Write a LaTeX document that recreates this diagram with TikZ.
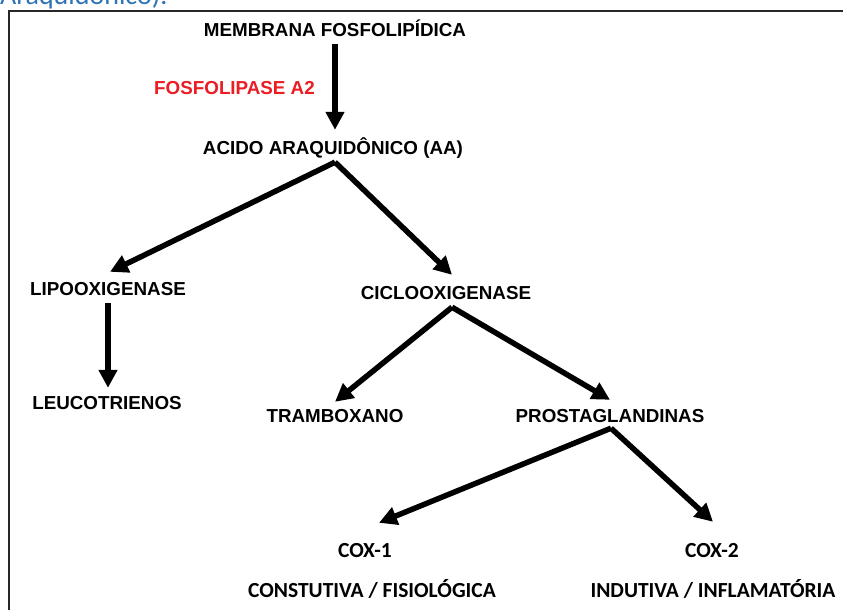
\documentclass[tikz,border=0pt]{standalone}
\usepackage{fontspec}
\setmainfont{Liberation Sans}
\newfontfamily\calfont{Carlito}
\usetikzlibrary{arrows.meta}
\definecolor{headblue}{RGB}{46,116,181}
\definecolor{enzred}{RGB}{236,28,36}
\tikzset{
  lbl/.style={inner sep=0pt, text height=14pt, text depth=0pt,
    font=\fontsize{18.8}{20}\selectfont\bfseries},
  clbl/.style={inner sep=0pt, text height=14pt, text depth=0pt,
    font=\calfont\fontsize{21.5}{24}\selectfont\bfseries},
  arr/.style={line width=5.5pt, -{Triangle[length=18pt,width=18pt]}},
  frame/.style={line width=2.2pt, draw=black!85}
}
\begin{document}
\begin{tikzpicture}[x=1pt,y=-1pt]
\useasboundingbox (0,0) rectangle (843,610);
\clip (0,0) rectangle (843,610);
\fill[white] (0,0) rectangle (843,610);
% heading fragment
\node[anchor=base west, inner sep=0pt, text=headblue,
  font=\calfont\fontsize{28}{30}\selectfont] (head) at (0,5) {Araquidônico).};
% frame
\draw[frame] (9,640) -- (9,11) -- (870,11);
% labels
\node[lbl] (mem) at (335,30) {MEMBRANA FOSFOLIPÍDICA};
\node[lbl, text=enzred] (fos) at (234.5,87) {FOSFOLIPASE A2};
\node[lbl] (aa) at (333,147) {ACIDO ARAQUIDÔNICO (AA)};
\node[lbl] (lipo) at (108,288) {LIPOOXIGENASE};
\node[lbl] (ciclo) at (446,292) {CICLOOXIGENASE};
\node[lbl] (leuco) at (107,402) {LEUCOTRIENOS};
\node[lbl] (tram) at (335,415) {TRAMBOXANO};
\node[lbl] (prost) at (610,415) {PROSTAGLANDINAS};
\node[clbl] (cox1) at (365,550) {COX-1};
\node[clbl] (cox2) at (712,550) {COX-2};
\node[clbl] (const) at (372,590) {CONSTUTIVA / FISIOLÓGICA};
\node[clbl] (indu) at (713,590) {INDUTIVA / INFLAMATÓRIA};
% arrows
\draw[arr] ([yshift=-7pt]mem.south) -- ([shift={(2pt,10pt)}]aa.north);
\draw[arr] ([shift={(2pt,-8pt)}]aa.south) -- ([shift={(2pt,9pt)}]lipo.north);
\draw[arr] ([shift={(2pt,-8pt)}]aa.south) -- ([shift={(6pt,10pt)}]ciclo.north);
\draw[arr] ([yshift=-8pt]lipo.south) -- ([shift={(1pt,7pt)}]leuco.north);
\draw[arr] ([shift={(6pt,-8pt)}]ciclo.south) -- ([yshift=6pt]tram.north);
\draw[arr] ([shift={(6pt,-8pt)}]ciclo.south) -- ([yshift=8pt]prost.north);
\draw[arr] ([shift={(1pt,-6pt)}]prost.south) -- ([shift={(14pt,20pt)}]cox1.north);
\draw[arr] ([shift={(1pt,-6pt)}]prost.south) -- ([shift={(1pt,21pt)}]cox2.north);
\end{tikzpicture}
\end{document}
